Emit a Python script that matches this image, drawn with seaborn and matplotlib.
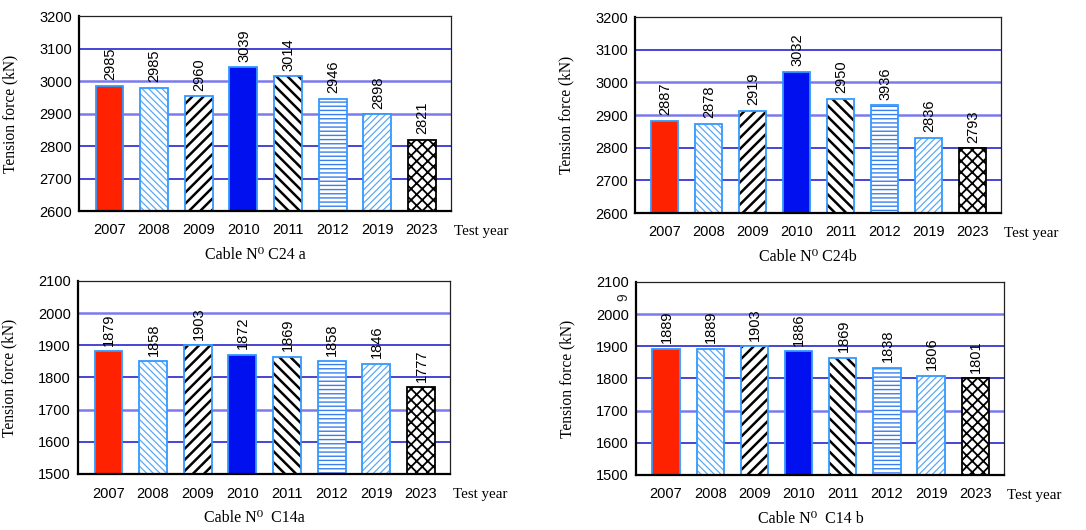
import numpy as np
import pandas as pd
import matplotlib
matplotlib.use("Agg")
import matplotlib.pyplot as plt
import seaborn as sns

years = ["2007", "2008", "2009", "2010", "2011", "2012", "2019", "2023"]

# bar heights (as drawn) and printed value labels
c24a_values = [2985, 2980, 2953, 3042, 3015, 2945, 2898, 2820]
c24a_labels = ["2985", "2985", "2960", "3039", "3014", "2946", "2898", "2821"]
c24b_values = [2882, 2873, 2913, 3033, 2950, 2930, 2830, 2798]
c24b_labels = ["2887", "2878", "2919", "3032", "2950", "3936", "2836", "2793"]
c14a_values = [1882, 1850, 1900, 1870, 1865, 1850, 1842, 1770]
c14a_labels = ["1879", "1858", "1903", "1872", "1869", "1858", "1846", "1777"]
c14b_values = [1892, 1892, 1900, 1885, 1865, 1833, 1808, 1800]
c14b_labels = ["1889", "1889", "1903", "1886", "1869", "1838", "1806", "1801"]

cable_names = ["Cable N\u2070 C24 a", "Cable N\u2070 C24b", "Cable N\u2070  C14a", "Cable N\u2070  C14 b"]
y_ranges = [(2600, 3200), (2600, 3200), (1500, 2100), (1500, 2100)]

sns.set_theme(style="white")
plt.rcParams["font.family"] = ["Liberation Sans", "DejaVu Sans"]
plt.rcParams["hatch.linewidth"] = 1.0

serif = ["Liberation Serif", "DejaVu Serif"]

# styles per year
face_colors = ["#ff2200", "white", "white", "#0010ee", "white", "white", "white", "white"]
hatch_colors = ["#ff2200", "#5aaaf5", "black", "#0010ee", "black", "#3a7ff0", "#5aaaf5", "black"]
hatches = [None, "\\\\\\\\\\", "///", None, "\\\\\\", "----", "/////", "xxx"]
hatch_lw = [1.0, 0.9, 1.8, 1.0, 1.8, 1.0, 0.9, 1.3]
edge_colors = ["#3399ff", "#3399ff", "#3399ff", "#3399ff", "#3399ff", "#3399ff", "#3399ff", "black"]

# axes rectangles in figure fraction [left, bottom, width, height]
W, H = 1086, 530
rects = [
    [79 / W, 1 - 211 / H, 372 / W, 195 / H],
    [635 / W, 1 - 213 / H, 366 / W, 196 / H],
    [78 / W, 1 - 474 / H, 372 / W, 193 / H],
    [636 / W, 1 - 475 / H, 368 / W, 193 / H],
]
cable_x = [0.473, 0.471, 0.473, 0.476]
light_grid = [[2, 3], [2, 3], [1, 4], [1, 4]]  # indices of lighter gridlines (from top tick)

fig = plt.figure(figsize=(W / 100, H / 100), dpi=100)
fig.patch.set_facecolor("white")

panels = [
    (c24a_values, c24a_labels),
    (c24b_values, c24b_labels),
    (c14a_values, c14a_labels),
    (c14b_values, c14b_labels),
]

for i, (vals, labs) in enumerate(panels):
    ax = fig.add_axes(rects[i])
    df = pd.DataFrame({"year": years, "value": vals})
    sns.barplot(data=df, x="year", y="value", hue="year", palette=face_colors,
                saturation=1, width=0.62, linewidth=0, legend=False, ax=ax, zorder=3)
    for p, hc, h, hl in zip(ax.patches, hatch_colors, hatches, hatch_lw):
        p.set_edgecolor(hc)
        p.set_linewidth(0)
        if h:
            p.set_hatch(h)
            if hasattr(p, "set_hatch_linewidth"):
                p.set_hatch_linewidth(hl)
    n_fill = len(ax.patches)
    sns.barplot(data=df, x="year", y="value", hue="year", palette=edge_colors,
                saturation=1, width=0.62, fill=False, linewidth=1.3, legend=False,
                ax=ax, zorder=4)

    lo, hi = y_ranges[i]
    ax.set_ylim(lo, hi)
    ax.set_xlim(-0.68, 7.65)
    ticks = list(range(lo, hi + 1, 100))
    ax.set_yticks(ticks)
    ax.set_axisbelow(True)
    # gridlines
    top_first = ticks[::-1]
    for k, t in enumerate(top_first):
        if t in (lo, hi):
            continue
        if k in light_grid[i]:
            ax.axhline(t, color="#7a7aee", lw=1.8, zorder=1)
        else:
            ax.axhline(t, color="#1414cc", lw=1.1, zorder=1)

    # value labels
    for p, lab in zip(ax.patches[:n_fill], labs):
        ax.annotate(lab, xy=(p.get_x() + p.get_width() / 2, p.get_height()),
                    xytext=(0.5, 4), textcoords="offset points", rotation=90,
                    ha="center", va="bottom", fontsize=10.5, color="black", zorder=6)

    ax.tick_params(axis="x", length=0, pad=9, labelsize=10.5, colors="black")
    ax.tick_params(axis="y", length=0, pad=5, labelsize=10.5, colors="black")
    ax.set_xlabel("")
    ax.set_ylabel("Tension force (kN)", fontsize=11.2, family=serif, color="black")
    ax.yaxis.set_label_coords(-61 / (rects[i][2] * W), 0.5)

    for s in ["left", "bottom"]:
        ax.spines[s].set_color("black")
        ax.spines[s].set_linewidth(1.6)
    for s in ["top", "right"]:
        ax.spines[s].set_color("#222222")
        ax.spines[s].set_linewidth(0.9)
    ax.spines["bottom"].set_zorder(7)

    ax.annotate("Test year", xy=(1, 0), xycoords="axes fraction",
                xytext=(2.5, -15), textcoords="offset points",
                ha="left", va="center", fontsize=10.8, family=serif, color="black")
    ax.annotate(cable_names[i], xy=(cable_x[i], 0), xycoords="axes fraction",
                xytext=(0, -32), textcoords="offset points",
                ha="center", va="center", fontsize=11.5, family=serif, color="black")

# stray mark present in the original figure
fig.text(623 / W, 1 - 297 / H, "9", rotation=90, ha="center", va="center", fontsize=10)

fig.savefig("out.png", dpi=100, facecolor="white")
